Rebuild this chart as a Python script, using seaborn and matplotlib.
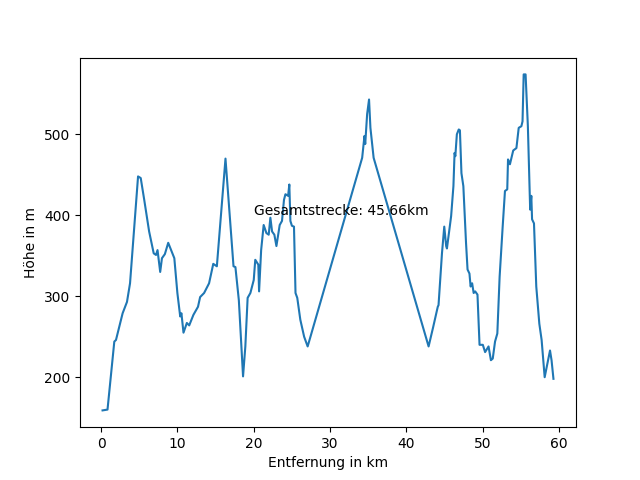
import numpy as np
import pandas as pd
import matplotlib
matplotlib.use('Agg')
import matplotlib.pyplot as plt
import seaborn as sns

# Höhenprofil: Entfernung in km, Höhe in m
entfernung = [0.2, 0.85, 1.74, 1.96, 2.83, 3.4, 3.8, 4.3, 4.85, 5.2, 5.66, 6.3,
              6.9, 7.2, 7.4, 7.75, 7.98, 8.36, 8.8, 9.6, 10.0, 10.37, 10.53, 10.8,
              11.24, 11.55, 12.1, 12.7, 12.98, 13.5, 14.15, 14.7, 15.17, 15.6, 16.3,
              16.77, 17.35, 17.6, 18.05, 18.6, 18.9, 19.2, 19.56, 20.0, 20.2, 20.6,
              20.7, 20.97, 21.3, 21.66, 21.96, 22.18, 22.4, 22.7, 22.97, 23.4, 23.7,
              23.96, 24.15, 24.5, 24.66, 24.8, 25.0, 25.27, 25.47, 25.7, 26.1, 26.6,
              27.06, 34.2, 34.5, 34.6, 34.85, 35.1, 35.28, 35.7, 42.9, 43.5, 44.1,
              44.2, 44.65, 44.95, 45.2, 45.3, 45.85, 46.15, 46.3, 46.4, 46.6, 46.85,
              47.0, 47.2, 47.45, 47.8, 48.0, 48.25, 48.4, 48.6, 48.8, 49.0, 49.3,
              49.57, 50.0, 50.3, 50.75, 51.06, 51.3, 51.6, 51.9, 52.2, 52.6, 52.9,
              53.2, 53.3, 53.55, 53.98, 54.4, 54.7, 55.05, 55.2, 55.35, 55.6, 55.9,
              56.2, 56.35, 56.45, 56.7, 57.0, 57.4, 57.7, 58.1, 58.8, 59.0, 59.25]
hoehe = [159, 160, 244, 246, 279, 293, 316, 378, 448, 446, 419, 380,
         353, 351, 357, 330, 347, 352, 366, 347, 304, 275, 279, 255,
         267, 264, 277, 287, 299, 304, 316, 340, 337, 387, 470,
         411, 337, 336, 295, 201, 238, 298, 304, 320, 345, 339,
         306, 357, 388, 378, 376, 397, 380, 376, 362, 388, 393,
         419, 426, 424, 438, 393, 387, 386, 304, 298, 271, 250,
         238, 471, 498, 488, 525, 543, 508, 471, 238, 262, 287,
         289, 353, 386, 362, 359, 399, 436, 477, 473, 500, 506,
         505, 452, 436, 366, 333, 328, 312, 316, 304, 306, 302,
         240, 240, 231, 238, 221, 223, 244, 254, 324, 386, 430,
         432, 469, 463, 480, 483, 508, 510, 516, 574, 574, 510,
         407, 424, 395, 390, 312, 266, 246, 200, 233, 221, 198]
gesamtstrecke = 45.66

df = pd.DataFrame({'entfernung': entfernung, 'hoehe': hoehe})

fig, ax = plt.subplots(figsize=(6.4, 4.8), dpi=100)
sns.lineplot(data=df, x='entfernung', y='hoehe', ax=ax, sort=False, color='#1f77b4')
ax.text(20, 400, f"Gesamtstrecke: {gesamtstrecke}km")
ax.set_xlabel('Entfernung in km')
ax.set_ylabel('Höhe in m')

plt.savefig('out.png', dpi=100)
